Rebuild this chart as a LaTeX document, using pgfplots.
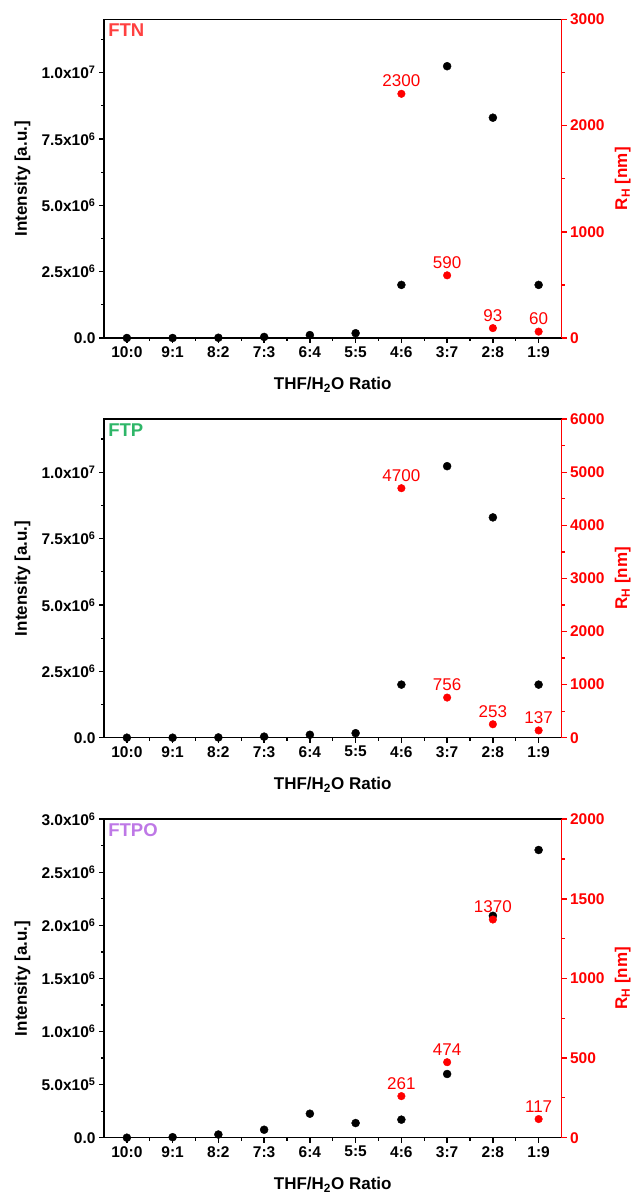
\documentclass[border=0pt]{standalone}
\usepackage{fontspec}
\setmainfont{Liberation Sans}
\usepackage{pgfplots}
\pgfplotsset{compat=1.18}
\definecolor{ftn}{RGB}{255,64,64}
\definecolor{ftp}{RGB}{46,182,104}
\definecolor{ftpo}{RGB}{190,120,230}
\pgfplotsset{
  base/.style={
    scale only axis, width=457.5pt, height=318.5pt,
    xmin=-0.5, xmax=9.5,
    xtick={0,...,9},
    xticklabels={10:0,9:1,8:2,7:3,6:4,5:5,4:6,3:7,2:8,1:9},
    minor xtick={0.5,1.5,...,8.5},
    tick align=outside,
    major tick length=5pt, minor tick length=3pt,
    every tick/.style={line width=1.4pt},
    every minor tick/.style={line width=1.2pt},
    ticklabel style={font=\fontsize{15.5}{16}\selectfont\bfseries},
    /pgf/number format/assume math mode=true,
    /pgf/number format/1000 sep={},
    scaled y ticks=false,
    clip=false,
  },
  lefta/.style={
    base,
    axis line style={line width=1.4pt, black},
    xtick pos=bottom, ytick pos=left,
    xlabel={THF/H\textsubscript{2}O Ratio},
    ylabel={Intensity [a.u.]},
    label style={font=\fontsize{17}{18}\selectfont\bfseries},
    xlabel style={at={(axis description cs:0.5,-0.148)}, anchor=center},
    ylabel style={at={(axis description cs:-0.178,0.5)}, anchor=center},
  },
  righta/.style={
    base,
    axis x line=none, axis y line*=right,
    y axis line style={line width=1.4pt, red},
    ytick style={red},
    yticklabel style={text=red},
    ylabel={R\textsubscript{H} [nm]},
    ylabel style={font=\fontsize{17}{18}\selectfont\bfseries, text=red, at={(axis description cs:1.134,0.5)}, anchor=center},
    minor y tick num=1,
  },
  blk/.style={only marks, mark=*, mark size=4pt, black},
  rd/.style={only marks, mark=*, mark size=3.8pt, red, mark options={fill=red, draw=red},
    point meta=explicit symbolic, nodes near coords,
    every node near coord/.append style={font=\fontsize{17}{17}\selectfont, text=red, inner sep=1pt, yshift=5.5pt}},
}
\begin{document}
\begin{tikzpicture}
\path[use as bounding box] (0,0) rectangle (633pt,1193pt);
% ---------------- Panel 1: FTN
\begin{axis}[lefta, at={(104pt,855pt)}, anchor=south west,
  ymin=0, ymax=1.2e7,
  ytick={0,2.5e6,5e6,7.5e6,1e7},
  yticklabels={0.0, 2.5x10\textsuperscript{6}, 5.0x10\textsuperscript{6}, 7.5x10\textsuperscript{6}, 1.0x10\textsuperscript{7}},
  minor ytick={1.25e6,3.75e6,6.25e6,8.75e6,11.25e6}]
\addplot[blk] coordinates {(0,0) (1,0) (2,0.01e6) (3,0.04e6) (4,0.11e6) (5,0.18e6) (6,2.0e6) (7,10.24e6) (8,8.3e6) (9,2.0e6)};
\node[anchor=north west, inner sep=0pt, font=\fontsize{18.5}{19}\selectfont\bfseries, text=ftn] at (axis description cs:0.009,0.986) {FTN};
\end{axis}
\begin{axis}[righta, at={(104pt,855pt)}, anchor=south west,
  ymin=0, ymax=3000, ytick={0,1000,2000,3000}]
\addplot[rd] coordinates {(6,2300)[2300] (7,590)[590] (8,93)[93] (9,60)[60]};
\end{axis}
% ---------------- Panel 2: FTP
\begin{axis}[lefta, at={(104pt,455.3pt)}, anchor=south west,
  ymin=0, ymax=1.2e7,
  ytick={0,2.5e6,5e6,7.5e6,1e7},
  yticklabels={0.0, 2.5x10\textsuperscript{6}, 5.0x10\textsuperscript{6}, 7.5x10\textsuperscript{6}, 1.0x10\textsuperscript{7}},
  minor ytick={1.25e6,3.75e6,6.25e6,8.75e6,11.25e6}]
\addplot[blk] coordinates {(0,0) (1,0) (2,0.01e6) (3,0.04e6) (4,0.11e6) (5,0.17e6) (6,2.0e6) (7,10.23e6) (8,8.3e6) (9,2.0e6)};
\node[anchor=north west, inner sep=0pt, font=\fontsize{18.5}{19}\selectfont\bfseries, text=ftp] at (axis description cs:0.009,0.986) {FTP};
\end{axis}
\begin{axis}[righta, at={(104pt,455.3pt)}, anchor=south west,
  ymin=0, ymax=6000, ytick={0,1000,...,6000}]
\addplot[rd] coordinates {(6,4700)[4700] (7,756)[756] (8,253)[253] (9,137)[137]};
\end{axis}
% ---------------- Panel 3: FTPO
\begin{axis}[lefta, at={(104pt,55.3pt)}, anchor=south west,
  ymin=0, ymax=3e6,
  ytick={0,0.5e6,1e6,1.5e6,2e6,2.5e6,3e6},
  yticklabels={0.0, 5.0x10\textsuperscript{5}, 1.0x10\textsuperscript{6}, 1.5x10\textsuperscript{6}, 2.0x10\textsuperscript{6}, 2.5x10\textsuperscript{6}, 3.0x10\textsuperscript{6}},
  minor ytick={0.25e6,0.75e6,1.25e6,1.75e6,2.25e6,2.75e6}]
\addplot[blk] coordinates {(0,0) (1,0.005e6) (2,0.03e6) (3,0.075e6) (4,0.226e6) (5,0.138e6) (6,0.17e6) (7,0.60e6) (8,2.09e6) (9,2.71e6)};
\node[anchor=north west, inner sep=0pt, font=\fontsize{18.5}{19}\selectfont\bfseries, text=ftpo] at (axis description cs:0.009,0.986) {FTPO};
\end{axis}
\begin{axis}[righta, at={(104pt,55.3pt)}, anchor=south west,
  ymin=0, ymax=2000, ytick={0,500,...,2000}]
\addplot[rd] coordinates {(6,261)[261] (7,474)[474] (8,1370)[1370] (9,117)[117]};
\end{axis}
\end{tikzpicture}
\end{document}
